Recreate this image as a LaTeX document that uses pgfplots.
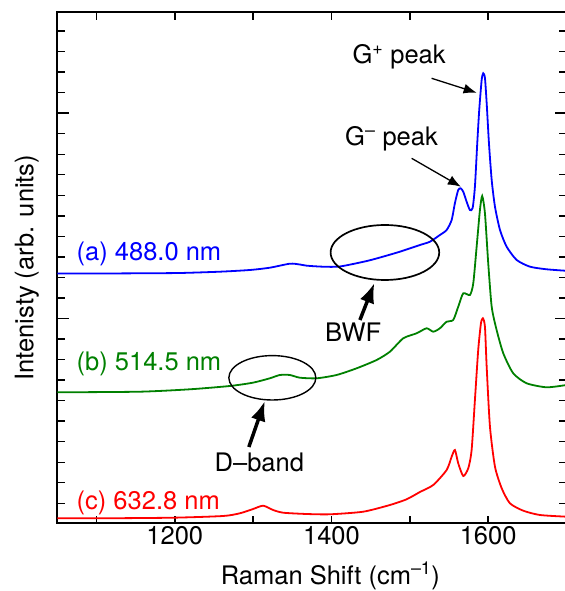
\documentclass[border=0pt]{standalone}
\usepackage{fontspec}
\setmainfont{TeX Gyre Heros}
\usepackage{pgfplots}
\pgfplotsset{compat=1.18}
\usetikzlibrary{arrows.meta}
\definecolor{sgreen}{RGB}{0,128,0}
\newcommand\bigfont{\fontsize{25.5}{30}\selectfont}

% spectra, intensity in arbitrary units (offset stacked)
\pgfplotstableread{
x y
1050 250.3
1104.2 250.3
1155.3 250.5
1206.4 250.8
1257.5 252.1
1295.8 253.8
1321.3 256.1
1346.9 260.1
1359.6 259.3
1368.6 258.1
1389.0 257.1
1410.7 257.3
1445.2 262.8
1465.6 267.1
1487.3 272.1
1512.9 278.8
1525.7 282.1
1538.4 288.8
1547.0 293.8
1553.4 303.8
1557.6 320.8
1561.8 333.8
1564.9 335.5
1568.2 332.1
1572.5 322.1
1576.7 313.8
1580.2 315.8
1583.1 337.1
1586.1 380.8
1588.6 413.8
1591.7 443.8
1593.7 450.5
1595.9 445.8
1598.1 420.8
1601.0 380.8
1604.5 343.8
1608.7 317.1
1615.1 293.8
1623.6 277.1
1636.4 263.8
1653.4 257.1
1674.7 254.5
1700 253.0
}\blue

\pgfplotstableread{
x y
1050 131.5
1155.3 132.1
1219.2 134.5
1270.2 137.8
1299.6 141.1
1321.3 145.5
1334.1 148.8
1346.9 148.8
1359.6 146.1
1381.0 145.5
1406.5 148.8
1432.1 155.5
1457.6 163.8
1474.6 172.1
1491.6 185.5
1508.7 190.5
1521.4 195.5
1529.9 192.1
1538.4 195.5
1547.0 202.1
1555.4 203.8
1561.8 217.1
1568.2 230.5
1576.7 228.8
1581.0 240.5
1585.3 277.1
1589.5 313.8
1592.4 327.8
1595.9 310.5
1600.1 260.5
1604.5 217.1
1610.8 193.8
1619.3 170.5
1632.0 150.5
1649.2 140.5
1674.7 136.5
1700 138.8
}\green

\pgfplotstableread{
x y
1050 5.5
1104.2 5.5
1197.8 6.1
1261.7 7.8
1283.0 10.5
1300.0 14.8
1312.8 18.1
1325.5 13.8
1338.3 11.1
1368.2 9.8
1397.9 9.5
1440.5 12.1
1474.6 18.8
1495.9 24.5
1512.9 31.8
1529.9 38.8
1547.0 53.8
1553.4 67.1
1557.6 73.8
1561.8 60.5
1568.2 47.8
1574.6 55.5
1578.9 73.8
1583.1 123.8
1587.3 173.8
1590.8 200.5
1593.3 205.5
1595.9 197.1
1598.1 157.1
1602.3 97.1
1608.7 57.1
1617.3 35.5
1627.8 20.5
1644.8 13.1
1666.1 8.8
1700 7.1
}\red

\begin{document}
\begin{tikzpicture}[font=\bigfont]
\begin{axis}[
  scale only axis,
  width=509.2pt, height=510.7pt,
  xmin=1050, xmax=1700, ymin=0.8, ymax=511.5,
  xtick={1200,1400,1600},
  minor xtick={1100,1200,...,1700},
  ytick={205.3,410.6}, yticklabels={},
  minor ytick={20.53,41.06,...,493},
  major tick length=11.5pt, minor tick length=7.3pt,
  major x tick style={draw=none},
  tick style={black, line width=1.4pt},
  axis line style={line width=1.8pt},
  /pgf/number format/assume math mode=true,
  /pgf/number format/1000 sep={},
  tick label style={font=\bigfont},
  xticklabel style={inner sep=0pt, anchor=north, yshift=-3.5pt},
  xlabel={Raman Shift (cm\textsuperscript{–1})},
  ylabel={Intenisty (arb. units)},
  label style={font=\bigfont},
  xlabel style={at={(axis description cs:0.5,0)}, anchor=base, inner sep=0pt, xshift=18.5pt, yshift=-61pt},
  ylabel style={at={(axis description cs:-0.0472,0.5)}, anchor=base, inner sep=0pt},
  clip=true,
]
\addplot[blue, line width=1.8pt, smooth, tension=0.4] table {\blue};
\addplot[sgreen, line width=1.8pt, smooth, tension=0.4] table {\green};
\addplot[red, line width=1.8pt, smooth, tension=0.4] table {\red};

\node[blue, anchor=base west, inner sep=0pt] at (axis cs:1074.5,263) {(a) 488.0 nm};
\node[sgreen, anchor=base west, inner sep=0pt] at (axis cs:1074.5,153) {(b) 514.5 nm};
\node[red, anchor=base west, inner sep=0pt] at (axis cs:1074.5,14.5) {(c) 632.8 nm};

\node[anchor=base east, inner sep=0pt] at (axis cs:1546,460) {G\textsuperscript{+} peak};
\node[anchor=base east, inner sep=0pt] at (axis cs:1536,378) {G\textsuperscript{–} peak};
\node[anchor=base, inner sep=0pt] at (axis cs:1427.7,182) {BWF};
\node[anchor=base, inner sep=0pt] at (axis cs:1307.9,52) {D–band};

\draw[line width=1.7pt] (axis cs:1468.2,271.3) ellipse [x radius=54.3pt, y radius=27.5pt];
\draw[line width=1.4pt] (axis cs:1324.5,146) ellipse [x radius=43.5pt, y radius=22.2pt];

\draw[-{Latex[length=13pt,width=10pt]}, line width=1.3pt] (axis cs:1527.8,445.5) -- (axis cs:1585.3,431.1);
\draw[-{Latex[length=13pt,width=10pt]}, line width=1.3pt] (axis cs:1502.3,365.5) -- (axis cs:1565.2,337.1);
\draw[-{Latex[length=20pt,width=15pt]}, line width=3.5pt] (axis cs:1436.3,203.8) -- (axis cs:1454.8,240.8);
\draw[-{Latex[length=20pt,width=15pt]}, line width=3.5pt] (axis cs:1294.5,76.8) -- (axis cs:1314.9,122.8);
\end{axis}
\pgfresetboundingbox
\path ([xshift=-57.3pt,yshift=-68pt]current axis.south west) rectangle ([xshift=-1.5pt,yshift=12.3pt]current axis.north east);
\end{tikzpicture}
\end{document}
